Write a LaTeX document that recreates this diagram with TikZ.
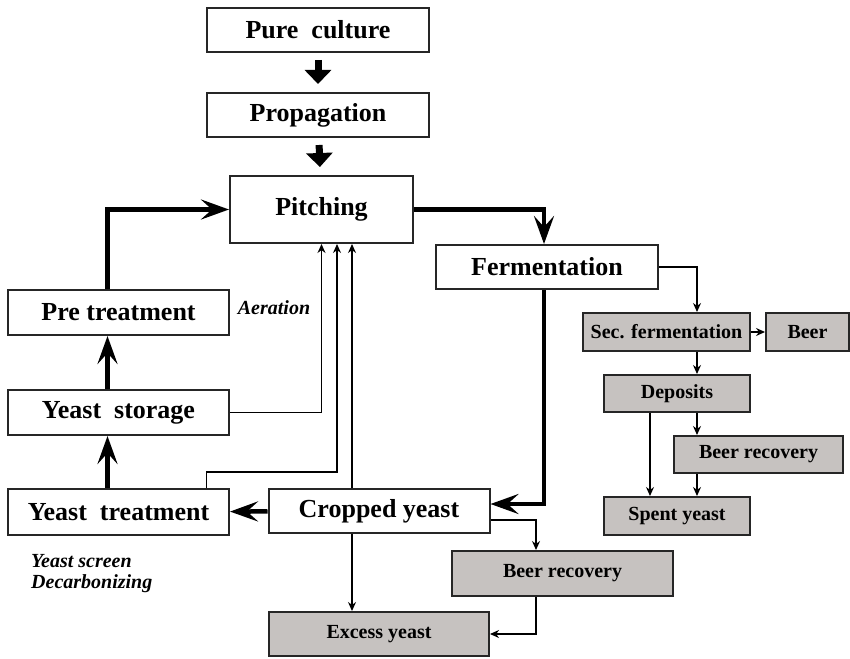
\documentclass[tikz,border=0pt]{standalone}
\usepackage{fontspec}
\setmainfont{Liberation Serif}
\usetikzlibrary{arrows.meta}
\definecolor{boxgray}{RGB}{198,194,192}

\begin{document}
\begin{tikzpicture}[x=1pt,y=-1pt]
        \tikzstyle{stage}=[draw=black!85,line width=2pt,fill=white,inner sep=0pt,font=\fontsize{26}{30}\selectfont\bfseries]
        \tikzstyle{waste}=[draw=black!85,line width=2pt,fill=boxgray,inner sep=0pt,font=\fontsize{20}{24}\selectfont\bfseries]
        \tikzstyle{fat}=[line width=4.5pt,-{Stealth[length=28pt,width=20pt,inset=11pt]}]
        \tikzstyle{block}=[line width=7pt,-{Triangle[length=14pt,width=26pt]}]
        \tikzstyle{thin}=[line width=1.3pt,-{Stealth[length=9pt,width=8pt]}]
        \tikzstyle{note}=[inner sep=0pt,font=\fontsize{20}{21}\selectfont\bfseries\itshape]
        \useasboundingbox (0,0) rectangle (850,658);

        \foreach \id/\x/\y/\w/\h/\txt in {pure/318/30/222/44/Pure~~culture, prop/318/115/222/44/Propagation,
                pitch/321.5/209.5/183/67/Pitching, pre/118.5/312.5/221/45/Pre treatment,
                stor/118.5/412.5/221/45/Yeast~~storage, treat/118.5/512/221/46/Yeast~~treatment,
                crop/379/511/221/44/Cropped yeast, ferm/547/267/222/44/Fermentation}
                \node[stage,minimum width=\w pt,minimum height=\h pt] (\id) at (\x,\y) {\txt};
        \foreach \id/\x/\y/\w/\h/\txt in {sec/666.5/332/167/38/Sec. fermentation, beer/807.5/332/83/38/Beer,
                dep/677/393.5/146/37/Deposits, brr/758.5/454.5/169/37/Beer recovery,
                spent/677/516/146/38/Spent yeast, brl/562.5/573.5/221/45/Beer recovery,
                exc/379/634/220/44/Excess yeast}
                \node[waste,minimum width=\w pt,minimum height=\h pt] (\id) at (\x,\y) {\txt};

        \node[note] (aer) at (274,308) {Aeration};
        \node[note,align=left,anchor=north west] (scr) at (31,554) {Yeast screen\\Decarbonizing};

        % main loop
        \draw[block,shorten <=7pt,shorten >=8pt] (pure) -- (prop);
        \draw[block,shorten <=7pt,shorten >=8pt] (prop) -- (pitch);
        \draw[fat] ([xshift=-11pt]pre.north) |- (pitch.west);
        \draw[fat] (pitch.east) -| ([xshift=-3pt]ferm.north);
        \draw[fat] ([xshift=-3pt]ferm.south) |- ([yshift=7pt]crop.east);
        \draw[fat] (crop) -- (treat);
        \draw[fat] ([xshift=-11pt]treat.north) -- ([xshift=-11pt]stor.south);
        \draw[fat] ([xshift=-11pt]stor.north) -- ([xshift=-11pt]pre.south);

        % returns to pitching
        \draw[thin] (stor.east) -| (pitch.south);
        \draw[thin] ([xshift=88pt]treat.north) -- ++(0,-16) -| ([xshift=15.5pt]pitch.south);
        \draw[thin] ([xshift=-27pt]crop.north) -- ([xshift=-27pt]crop.north |- pitch.south);

        % side streams
        \draw[thin] (ferm.east) -| ([xshift=30.5pt]sec.north);
        \draw[thin] (sec) -- (beer);
        \draw[thin] ([xshift=30.5pt]sec.south) -- ([xshift=20pt]dep.north);
        \draw[thin] ([xshift=20pt]dep.south) -- ([xshift=20pt]dep.south |- brr.north);
        \draw[thin] ([xshift=-27pt]dep.south) -- ([xshift=-27pt]spent.north);
        \draw[thin] ([xshift=-61.5pt]brr.south) -- ([xshift=20pt]spent.north);
        \draw[thin] ([yshift=-9pt]crop.east) -| ([xshift=-26.5pt]brl.north);
        \draw[thin] ([xshift=-27pt]crop.south) -- ([xshift=-27pt]exc.north);
        \draw[thin] ([xshift=-26.5pt]brl.south) |- (exc.east);
\end{tikzpicture}
\end{document}
